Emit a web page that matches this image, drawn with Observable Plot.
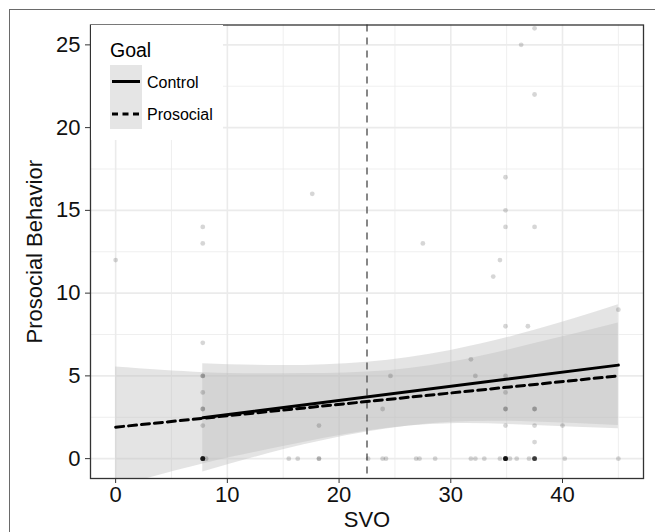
<!DOCTYPE html>
<html>
<head>
<meta charset="utf-8">
<script src="https://cdn.jsdelivr.net/npm/d3@7"></script>
<script src="https://cdn.jsdelivr.net/npm/@observablehq/plot@0.6"></script>
<style>
  html, body { margin: 0; padding: 0; background: #fff; }
  #wrap { position: relative; width: 655px; height: 532px; overflow: hidden; font-family: "Liberation Sans", Arial, sans-serif; }
  #outer { position: absolute; left: 8.5px; top: 8.5px; width: 760px; height: 640px; border: 1.2px solid #6a6a6a; box-sizing: border-box; }
  #chart { position: absolute; left: 0; top: 0; }
  #legend { position: absolute; left: 0; top: 0; pointer-events: none; }
</style>
</head>
<body>
<div id="wrap">
  <div id="outer"></div>
  <div id="chart"></div>
  <svg id="legend" width="655" height="532" font-family="Liberation Sans, Arial, sans-serif">
    <rect x="91" y="25" width="132" height="115" fill="#fff"></rect>
    <text x="110" y="57.3" font-size="19.5" fill="#000">Goal</text>
    <rect x="110" y="65" width="32" height="64" fill="#e5e5e5"></rect>
    <line x1="112" x2="140" y1="81.5" y2="81.5" stroke="#000" stroke-width="3"></line>
    <line x1="112" x2="140" y1="114" y2="114" stroke="#000" stroke-width="3" stroke-dasharray="6,4.5"></line>
    <text x="147" y="87.5" font-size="16" fill="#000">Control</text>
    <text x="147" y="120" font-size="16" fill="#000">Prosocial</text>
  </svg>
</div>
<script>
// ---- data ----
const goals = ["Control", "Prosocial"];
const xTitle = ["SVO"];
const yTitle = ["Prosocial Behavior"];

// raw observations (SVO, prosocial behavior, number of overlapping points)
const pointX = [0, 7.8, 7.8, 7.8, 7.8, 7.8, 7.8, 7.8, 7.8, 8.1,
  15.5, 16.3, 17.6, 18.2, 18.2, 22.6, 23.9, 23.9, 24.2, 24.6,
  26.9, 27.2, 27.5, 28.6, 31.8, 31.8, 32.2, 32.2, 33.0, 33.8,
  34.4, 34.4, 34.9, 34.9, 34.9, 34.9, 34.9, 34.9, 34.9, 34.9, 34.9,
  35.3, 35.9, 36.3, 36.9, 37.0, 37.5, 37.5, 37.5, 37.5, 37.5, 37.5, 37.5,
  40.0, 40.2, 45, 45];
const pointY = [12, 14, 13, 7, 5, 4, 3, 2, 0, 0,
  0, 0, 16, 2, 0, 0, 3, 0, 0, 5,
  0, 0, 13, 0, 6, 0, 5, 0, 0, 11,
  12, 0, 17, 15, 14, 8, 5, 4, 3, 2, 0,
  0, 0, 25, 8, 0, 26, 22, 14, 3, 2, 1, 0,
  2, 0, 9, 0];
const pointN = [1, 1, 1, 1, 2, 1, 2, 1, 12, 1,
  1, 1, 1, 1, 2, 1, 1, 1, 1, 1,
  1, 1, 1, 1, 1, 1, 1, 1, 1, 1,
  1, 1, 1, 1, 1, 1, 1, 1, 2, 1, 14,
  1, 1, 1, 1, 1, 1, 1, 1, 2, 1, 1, 8,
  1, 1, 1, 1];

// fitted lines (end points)
const controlLineX = [7.8, 45];
const controlLineY = [2.47, 5.65];
const prosocialLineX = [0, 45];
const prosocialLineY = [1.9, 5.0];

// confidence bands
const controlBandX = [7.8, 15, 22.5, 30, 37.5, 45];
const controlBandLow = [-0.81, 0.53, 1.61, 2.2, 2.22, 2.0];
const controlBandHigh = [5.74, 5.63, 5.83, 6.54, 7.75, 9.3];
const prosocialBandX = [0, 8, 15, 22.5, 30, 37.5, 45];
const prosocialBandLow = [-1.73, -0.29, 0.73, 1.67, 2.11, 2.0, 1.8];
const prosocialBandHigh = [5.53, 5.19, 5.13, 5.23, 5.83, 6.95, 8.2];

const cutoff = [22.5];

const xTicks = [0, 10, 20, 30, 40];
const xMinor = [5, 15, 25, 35, 45];
const yTicks = [0, 5, 10, 15, 20, 25];
const yMinor = [2.5, 7.5, 12.5, 17.5, 22.5];

// ---- build tables ----
const points = pointX.flatMap((x, i) => Array.from({length: pointN[i]}, () => ({x, y: pointY[i]})));
const controlLine = controlLineX.map((x, i) => ({x, y: controlLineY[i], goal: goals[0]}));
const prosocialLine = prosocialLineX.map((x, i) => ({x, y: prosocialLineY[i], goal: goals[1]}));
const controlBand = controlBandX.map((x, i) => ({x, lo: controlBandLow[i], hi: controlBandHigh[i]}));
const prosocialBand = prosocialBandX.map((x, i) => ({x, lo: prosocialBandLow[i], hi: prosocialBandHigh[i]}));

const gridStyle = {stroke: "#ebebeb", strokeOpacity: 1};

const chart = Plot.plot({
  width: 655,
  height: 532,
  marginLeft: 90,
  marginRight: 12,
  marginTop: 24.5,
  marginBottom: 54,
  style: {fontFamily: "Liberation Sans, Arial, sans-serif", fontSize: "22px", color: "#111", background: "transparent"},
  x: {domain: [-2.25, 47.25]},
  y: {domain: [-1.2, 26.2]},
  marks: [
    Plot.gridX(xMinor, {...gridStyle, strokeWidth: 0.8}),
    Plot.gridY(yMinor, {...gridStyle, strokeWidth: 0.8}),
    Plot.gridX(xTicks, {...gridStyle, strokeWidth: 1.6}),
    Plot.gridY(yTicks, {...gridStyle, strokeWidth: 1.6}),
    Plot.areaY(prosocialBand, {x: "x", y1: "lo", y2: "hi", fill: "#bdbdbd", fillOpacity: 0.41, curve: "natural", clip: true}),
    Plot.areaY(controlBand, {x: "x", y1: "lo", y2: "hi", fill: "#bdbdbd", fillOpacity: 0.41, curve: "natural", clip: true}),
    Plot.ruleX(cutoff, {stroke: "#606060", strokeWidth: 1.5, strokeDasharray: "7,6"}),
    Plot.dot(points, {x: "x", y: "y", r: 2.4, fill: "#000", fillOpacity: 0.16, stroke: "none"}),
    Plot.line(controlLine, {x: "x", y: "y", stroke: "#000", strokeWidth: 3}),
    Plot.line(prosocialLine, {x: "x", y: "y", stroke: "#000", strokeWidth: 3, strokeDasharray: "8,5"}),
    Plot.frame({stroke: "#333", strokeWidth: 1.3}),
    Plot.axisX(xTicks, {tickSize: 5, tickPadding: 3, stroke: "#333", fontSize: 22, label: null}),
    Plot.axisY(yTicks, {tickSize: 5, tickPadding: 5, stroke: "#333", fontSize: 22, label: null}),
    Plot.text(xTitle, {text: d => d, frameAnchor: "bottom", lineAnchor: "bottom", dy: 48, fontSize: 22, fill: "#111"}),
    Plot.text(yTitle, {text: d => d, frameAnchor: "left", textAnchor: "middle", lineAnchor: "top", rotate: -90, dx: -64, fontSize: 22, fill: "#111"})
  ]
});
document.getElementById("chart").appendChild(chart);
</script>
</body>
</html>
